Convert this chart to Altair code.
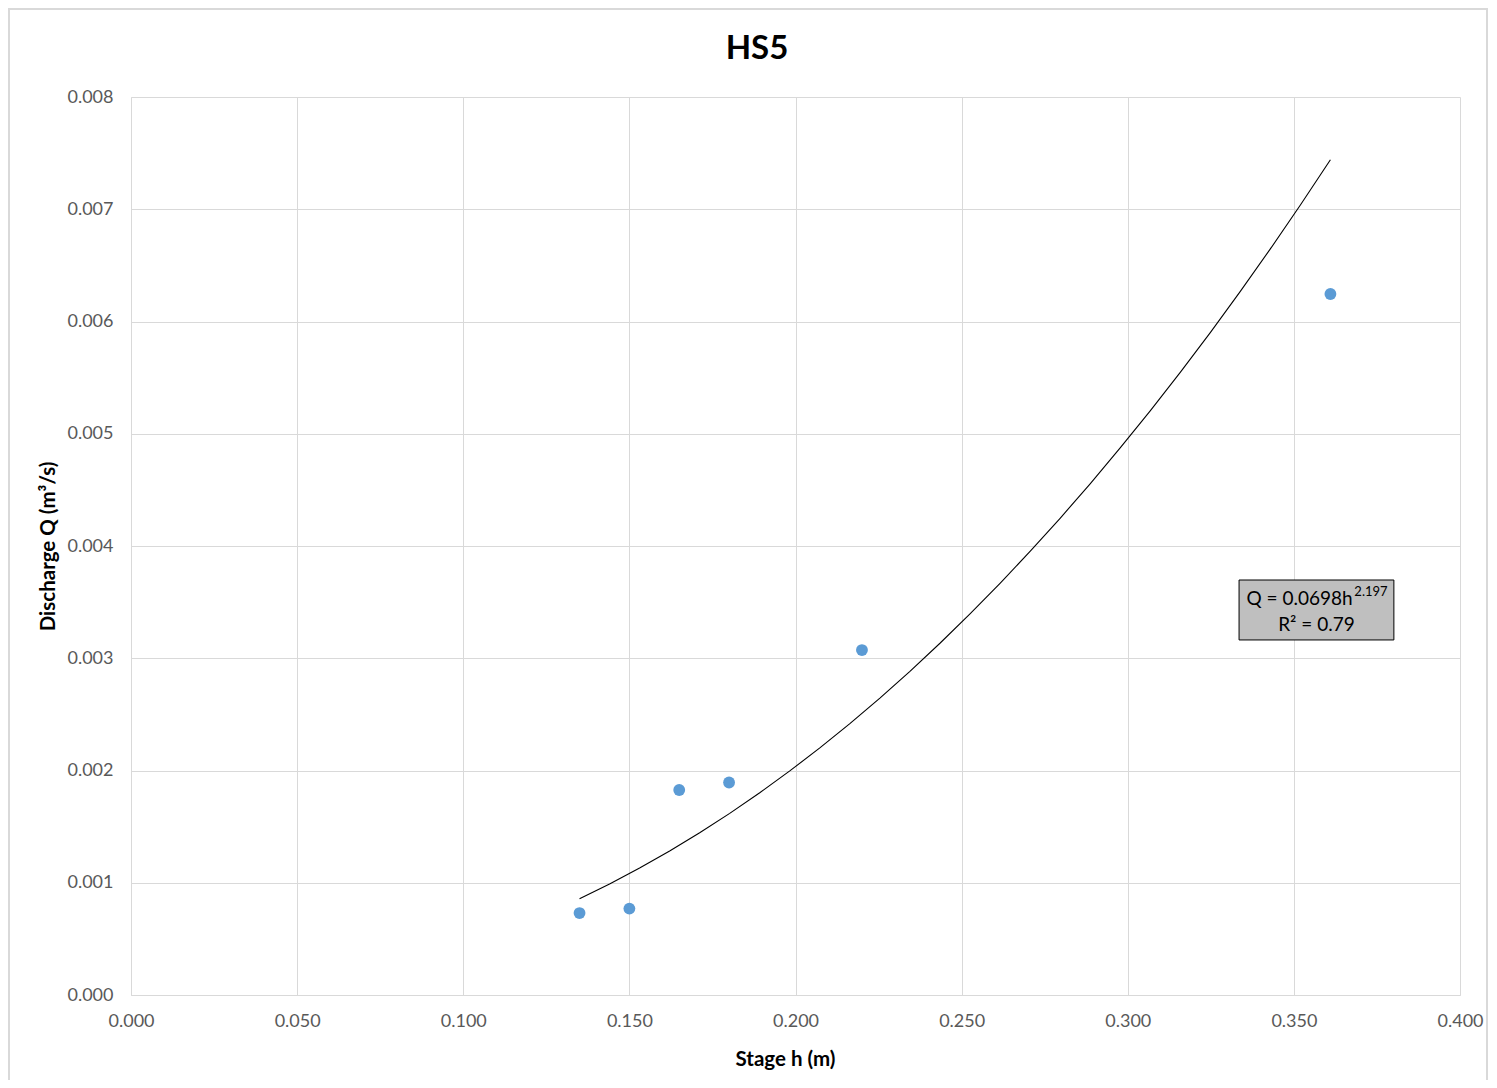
import altair as alt
import pandas as pd

# Data
stage_h = [0.135, 0.150, 0.165, 0.180, 0.220, 0.361]
discharge_q = [0.00073, 0.00077, 0.001826, 0.001893, 0.003073, 0.006245]

x_ticks = [0.0, 0.05, 0.10, 0.15, 0.20, 0.25, 0.30, 0.35, 0.40]
y_ticks = [0.0, 0.001, 0.002, 0.003, 0.004, 0.005, 0.006, 0.007, 0.008]

title_text = "HS5"
eq_main = "Q = 0.0698h"
eq_exp = "2.197"
r2_text = "R² = 0.79"

df = pd.DataFrame({"h": stage_h, "q": discharge_q})

W, H = 1329, 898
FONT = "Lato"

xscale = alt.Scale(domain=[0, 0.4], nice=False, zero=True)
yscale = alt.Scale(domain=[0, 0.008], nice=False, zero=True)

base = alt.Chart(df)

points = base.mark_circle(size=140, color="#5b9bd5", opacity=1).encode(
    x=alt.X("h:Q", scale=xscale,
            axis=alt.Axis(values=x_ticks, format=".3f", title="Stage h (m)",
                          titleX=654, titleY=64, titleAlign="center",
                          titleBaseline="middle", labelPadding=17, labelFlush=False)),
    y=alt.Y("q:Q", scale=yscale,
            axis=alt.Axis(values=y_ticks, format=".3f", title="Discharge Q (m³/s)",
                          titleX=-83, titleY=H / 2, titleAlign="center",
                          titleBaseline="middle", titleAngle=-90, labelPadding=18,
                          labelFlush=False)),
)

trend = base.transform_regression("h", "q", method="pow").mark_line(
    color="black", strokeWidth=1.1
).encode(x=alt.X("h:Q", scale=xscale), y=alt.Y("q:Q", scale=yscale))

one = pd.DataFrame({"k": [0]})

box = alt.Chart(one).mark_rect(
    fill="#bfbfbf", stroke="black", strokeWidth=1
).encode(
    x=alt.datum(0.3335, scale=xscale), x2=alt.datum(0.3801),
    y=alt.datum(0.003697, scale=yscale), y2=alt.datum(0.003163),
)

t_main = alt.Chart(one).mark_text(
    text=eq_main, font=FONT, fontSize=19, color="black", align="right", baseline="middle"
).encode(x=alt.datum(0.3677, scale=xscale), y=alt.datum(0.00353, scale=yscale))
t_exp = alt.Chart(one).mark_text(
    text=eq_exp, font=FONT, fontSize=13, color="black", align="left", baseline="middle"
).encode(x=alt.datum(0.3682, scale=xscale), y=alt.datum(0.00359, scale=yscale))
t_r2 = alt.Chart(one).mark_text(
    text=r2_text, font=FONT, fontSize=19, color="black", align="center", baseline="middle"
).encode(x=alt.datum(0.3568, scale=xscale), y=alt.datum(0.00330, scale=yscale))

t_title = alt.Chart(one).mark_text(
    text=title_text, font=FONT, fontSize=33, fontWeight="bold", color="black",
    align="center", baseline="middle"
).encode(x=alt.value(626), y=alt.value(-48))

frame = alt.Chart(one).mark_rect(
    fill=None, stroke="#d9d9d9", strokeWidth=2
).encode(x=alt.value(-122), x2=alt.value(1356), y=alt.value(-88), y2=alt.value(1000))

chart = alt.layer(frame, trend, points, box, t_main, t_exp, t_r2, t_title).properties(
    width=W, height=H,
    autosize=alt.AutoSizeParams(type="none"),
    padding={"left": 123, "top": 89, "right": 29, "bottom": 85},
).configure_view(stroke=None).configure_axis(
    grid=True, gridColor="#d9d9d9", gridWidth=1,
    domainColor="#d9d9d9", domainWidth=1, ticks=False,
    labelFont=FONT, labelFontSize=18, labelColor="#595959",
    titleFont=FONT, titleFontSize=20.5, titleFontWeight="bold", titleColor="black",
)

chart.save("out.html", embed_options={"renderer": "svg", "actions": False})
